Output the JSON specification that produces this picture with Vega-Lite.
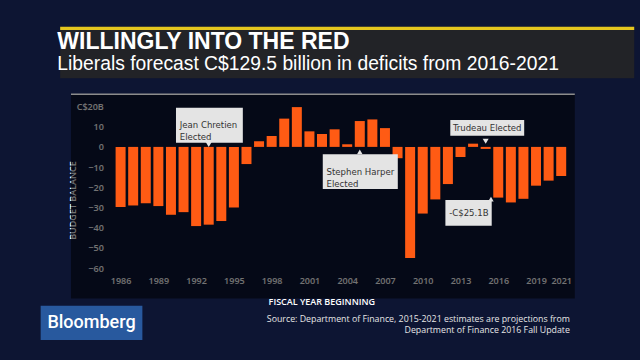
{
  "$schema": "https://vega.github.io/schema/vega-lite/v6.json",
  "autosize": {"type": "none"},
  "width": 463.2,
  "height": 161.6,
  "padding": {"left": 109.3, "top": 106.5, "right": 67.5, "bottom": 91.9},
  "background": "#0d1533",
  "title": {
    "text": "WILLINGLY INTO THE RED",
    "subtitle": "Liberals forecast C$129.5 billion in deficits from 2016-2021",
    "anchor": "start",
    "frame": "group",
    "dx": -52,
    "dy": 52,
    "offset": 4,
    "font": "Liberation Sans",
    "fontSize": 23,
    "fontWeight": "bold",
    "color": "#ffffff",
    "subtitleFont": "Liberation Sans",
    "subtitleFontSize": 19.3,
    "subtitleColor": "#ffffff",
    "subtitlePadding": 1
  },
  "datasets": {
    "budget": [
      {"year": 1986, "balance": -29.8},
      {"year": 1987, "balance": -29.0},
      {"year": 1988, "balance": -27.9},
      {"year": 1989, "balance": -29.3},
      {"year": 1990, "balance": -33.6},
      {"year": 1991, "balance": -32.3},
      {"year": 1992, "balance": -39.2},
      {"year": 1993, "balance": -38.5},
      {"year": 1994, "balance": -36.7},
      {"year": 1995, "balance": -30.0},
      {"year": 1996, "balance": -8.5},
      {"year": 1997, "balance": 2.8},
      {"year": 1998, "balance": 5.4},
      {"year": 1999, "balance": 14.0},
      {"year": 2000, "balance": 19.7},
      {"year": 2001, "balance": 7.7},
      {"year": 2002, "balance": 6.4},
      {"year": 2003, "balance": 8.7},
      {"year": 2004, "balance": 1.3},
      {"year": 2005, "balance": 12.8},
      {"year": 2006, "balance": 13.6},
      {"year": 2007, "balance": 9.3},
      {"year": 2008, "balance": -5.6},
      {"year": 2009, "balance": -55.0},
      {"year": 2010, "balance": -33.0},
      {"year": 2011, "balance": -26.0},
      {"year": 2012, "balance": -18.4},
      {"year": 2013, "balance": -5.0},
      {"year": 2014, "balance": 1.6},
      {"year": 2015, "balance": -1.0},
      {"year": 2016, "balance": -25.1},
      {"year": 2017, "balance": -27.5},
      {"year": 2018, "balance": -25.7},
      {"year": 2019, "balance": -19.2},
      {"year": 2020, "balance": -16.7},
      {"year": 2021, "balance": -14.4}
    ],
    "notes": [
      {"label": "Jean Chretien\nElected", "x0": 1990.4, "x1": 1995.71, "y0": 19.41, "y1": 2.08, "tx": 1990.7, "ty": 10.9},
      {"label": "Stephen Harper\nElected", "x0": 2002.06, "x1": 2008.02, "y0": -3.66, "y1": -20.84, "tx": 2002.36, "ty": -12.2},
      {"label": "Trudeau Elected", "x0": 2012.19, "x1": 2018.06, "y0": 13.32, "y1": 5.54, "tx": 2012.4, "ty": 9.4},
      {"label": "-C$25.1B", "x0": 2011.8, "x1": 2015.48, "y0": -26.29, "y1": -39.01, "tx": 2012.1, "ty": -32.65}
    ],
    "pointersDown": [
      {"year": 1993, "v": 1.2},
      {"year": 2015, "v": 2.8}
    ],
    "pointersUp": [
      {"year": 2005, "v": -2.5},
      {"year": 2015.42, "v": -25.9}
    ],
    "blank": [{}]
  },
  "resolve": {"axis": {"x": "independent", "y": "independent"}},
  "layer": [
    {
      "data": {"name": "blank"},
      "mark": {"type": "rect", "color": "#000000", "opacity": 0.55},
      "encoding": {
        "x": {"datum": 1982.06, "type": "quantitative", "axis": null},
        "x2": {"datum": 2022.08},
        "y": {"datum": 26.04, "type": "quantitative", "axis": null},
        "y2": {"datum": -75}
      }
    },
    {
      "data": {"name": "blank"},
      "mark": {"type": "rect", "color": "#222327"},
      "encoding": {
        "x": {"datum": 1981.2, "type": "quantitative", "axis": null},
        "x2": {"datum": 2026.8},
        "y": {"datum": 57.87, "type": "quantitative", "axis": null},
        "y2": {"datum": 33.96}
      }
    },
    {
      "data": {"name": "blank"},
      "mark": {"type": "rect", "color": "#e5c61e"},
      "encoding": {
        "x": {"datum": 1981.2, "type": "quantitative", "axis": null},
        "x2": {"datum": 2026.8},
        "y": {"datum": 59.5, "type": "quantitative", "axis": null},
        "y2": {"datum": 57.87}
      }
    },
    {
      "data": {"name": "blank"},
      "mark": {"type": "rule", "color": "#8c8c8c", "strokeWidth": 1.5},
      "encoding": {
        "x": {"datum": 1982.06, "type": "quantitative", "axis": null},
        "x2": {"datum": 2022.08},
        "y": {"datum": 26.04, "type": "quantitative", "axis": null}
      }
    },
    {
      "data": {"name": "budget"},
      "mark": {"type": "bar", "width": 10, "color": "#ff5b14"},
      "encoding": {
        "x": {
          "field": "year",
          "type": "quantitative",
          "scale": {"domain": [1985.5, 2021.5], "nice": false, "zero": false},
          "axis": {
            "orient": "bottom",
            "values": [1986, 1989, 1992, 1995, 1998, 2001, 2004, 2007, 2010, 2013, 2016, 2019, 2021],
            "format": "d",
            "ticks": false,
            "domain": false,
            "grid": false,
            "labelFlush": false,
            "labelOverlap": false,
            "labelPadding": 8,
            "labelColor": "#ffffff",
            "labelFont": "Open Sans",
            "labelFontSize": 9,
            "labelFontWeight": 600,
            "title": "FISCAL YEAR BEGINNING",
            "titleColor": "#ffffff",
            "titleFont": "Open Sans",
            "titleFontSize": 9,
            "titleFontWeight": 600,
            "titleX": 212,
            "titleY": 33,
            "titleAlign": "center",
            "titleBaseline": "middle"
          }
        },
        "y": {
          "field": "balance",
          "type": "quantitative",
          "scale": {"domain": [-60, 20], "nice": false},
          "axis": {
            "orient": "left",
            "values": [20, 10, 0, -10, -20, -30, -40, -50, -60],
            "labelExpr": "datum.value == 20 ? 'C$20B' : datum.label",
            "ticks": false,
            "domain": false,
            "grid": false,
            "labelPadding": 6,
            "labelColor": "#ffffff",
            "labelFont": "Open Sans",
            "labelFontSize": 9,
            "labelFontWeight": 600,
            "title": "BUDGET BALANCE",
            "titleColor": "#ffffff",
            "titleFont": "Open Sans",
            "titleFontSize": 9,
            "titleFontWeight": 600,
            "titleX": -36.6,
            "titleY": 93.5,
            "titleAngle": -90,
            "titleAlign": "center",
            "titleBaseline": "middle"
          }
        }
      }
    },
    {
      "data": {"name": "notes"},
      "mark": {"type": "rect", "color": "#e4e4e4"},
      "encoding": {
        "x": {"field": "x0", "type": "quantitative", "axis": null},
        "x2": {"field": "x1"},
        "y": {"field": "y0", "type": "quantitative", "axis": null},
        "y2": {"field": "y1"}
      }
    },
    {
      "data": {"name": "pointersDown"},
      "mark": {"type": "point", "shape": "triangle-down", "filled": true, "size": 36, "color": "#e4e4e4", "opacity": 1},
      "encoding": {
        "x": {"field": "year", "type": "quantitative", "axis": null},
        "y": {"field": "v", "type": "quantitative", "axis": null}
      }
    },
    {
      "data": {"name": "pointersUp"},
      "mark": {"type": "point", "shape": "triangle-up", "filled": true, "size": 30, "color": "#e4e4e4", "opacity": 1},
      "encoding": {
        "x": {"field": "year", "type": "quantitative", "axis": null},
        "y": {"field": "v", "type": "quantitative", "axis": null}
      }
    },
    {
      "data": {"name": "notes"},
      "mark": {"type": "text", "align": "left", "baseline": "middle", "lineBreak": "\n", "lineHeight": 12.4, "font": "DejaVu Sans Condensed, Liberation Sans, sans-serif", "fontSize": 9.5, "color": "#333333"},
      "encoding": {
        "x": {"field": "tx", "type": "quantitative", "axis": null},
        "y": {"field": "ty", "type": "quantitative", "axis": null},
        "text": {"field": "label"}
      }
    },
    {
      "data": {"name": "blank"},
      "mark": {"type": "rect", "color": "#28599e"},
      "encoding": {
        "x": {"datum": 1979.65, "type": "quantitative", "axis": null},
        "x2": {"datum": 1987.73},
        "y": {"datum": -78.61, "type": "quantitative", "axis": null},
        "y2": {"datum": -95.59}
      }
    },
    {
      "data": {"name": "blank"},
      "mark": {"type": "text", "text": "Bloomberg", "align": "center", "baseline": "alphabetic", "font": "Roboto", "fontSize": 18, "fontWeight": 500, "color": "#ffffff"},
      "encoding": {
        "x": {"datum": 1983.69, "type": "quantitative", "axis": null},
        "y": {"datum": -89.9, "type": "quantitative", "axis": null}
      }
    },
    {
      "data": {"name": "blank"},
      "mark": {"type": "text", "text": ["Source: Department of Finance, 2015-2021 estimates are projections from", "Department of Finance 2016 Fall Update"], "align": "right", "baseline": "alphabetic", "lineHeight": 11, "font": "Open Sans", "fontSize": 8.8, "color": "#e6e6e6"},
      "encoding": {
        "x": {"datum": 2021.69, "type": "quantitative", "axis": null},
        "y": {"datum": -86.44, "type": "quantitative", "axis": null}
      }
    }
  ],
  "config": {
    "view": {"stroke": null}
  }
}
